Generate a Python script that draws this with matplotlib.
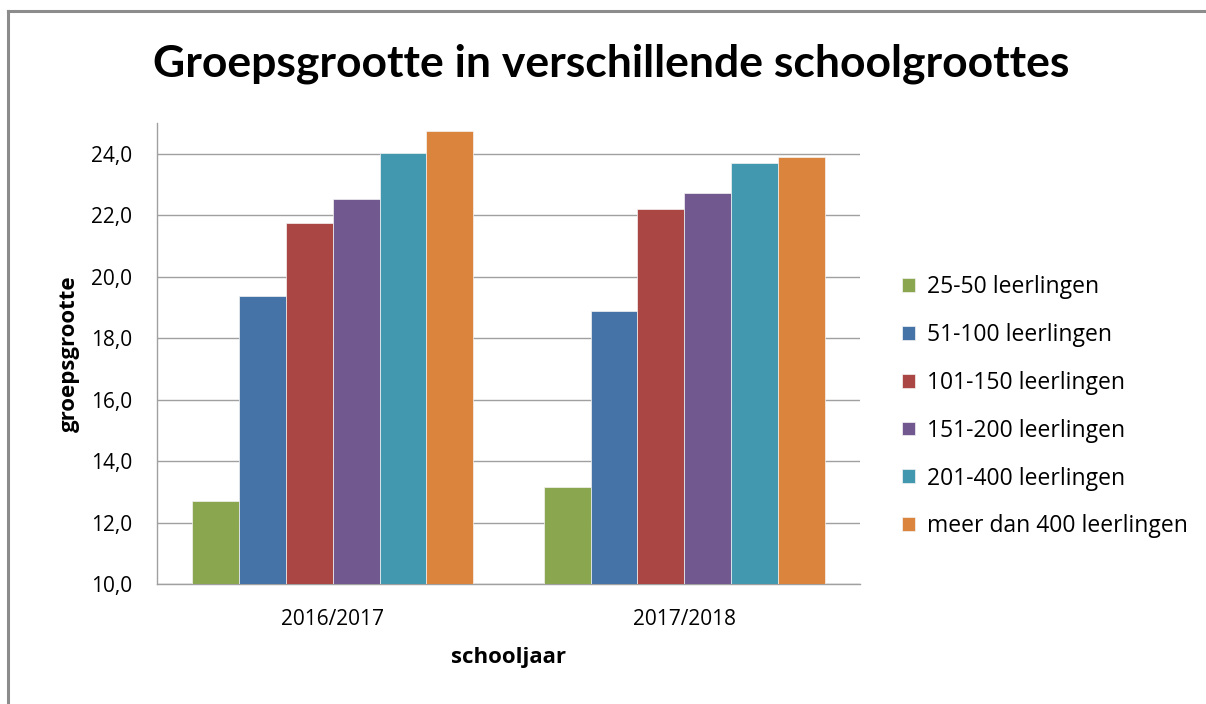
import matplotlib
matplotlib.use('Agg')
import matplotlib.pyplot as plt
from matplotlib.ticker import FuncFormatter
from matplotlib.lines import Line2D
import numpy as np

plt.rcParams['font.family'] = ['Open Sans', 'DejaVu Sans']

years = ['2016/2017', '2017/2018']
groups = ['25-50 leerlingen', '51-100 leerlingen', '101-150 leerlingen',
          '151-200 leerlingen', '201-400 leerlingen', 'meer dan 400 leerlingen']
v_25_50 = [12.69, 13.15]
v_51_100 = [19.38, 18.89]
v_101_150 = [21.76, 22.19]
v_151_200 = [22.52, 22.71]
v_201_400 = [24.03, 23.69]
v_400plus = [24.75, 23.88]
colors = ['#8AA64E', '#4572A7', '#AA4643', '#71588F', '#4198AF', '#DB843D']

series = [v_25_50, v_51_100, v_101_150, v_151_200, v_201_400, v_400plus]

fig = plt.figure(figsize=(12.06, 7.04), dpi=100)
ax = fig.add_axes([157/1206, 1-584/704, (860-157)/1206, (584-123)/704])

x = np.arange(len(years))
w = 0.8 / len(series)
for i, (vals, name) in enumerate(zip(series, groups)):
    ax.bar(x + (i - 2.5) * w, vals, w, color=colors[i], label=name,
           edgecolor='#f4f4f4', linewidth=0.5, zorder=3)

ax.set_xlim(-0.5, 1.5)
ax.set_ylim(10, 25)
ax.set_yticks(np.arange(10, 25, 2))
ax.yaxis.set_major_formatter(FuncFormatter(lambda v, p: f'{v:.1f}'.replace('.', ',')))
ax.set_xticks(x)
ax.set_xticklabels(years)
ax.tick_params(axis='both', length=0, labelsize=15, colors='#000000')
ax.tick_params(axis='y', pad=18)
ax.tick_params(axis='x', pad=18)
ax.grid(axis='y', color='#A0A0A0', linewidth=1.0, zorder=0)
for s in ['top', 'right']:
    ax.spines[s].set_visible(False)
for s in ['left', 'bottom']:
    ax.spines[s].set_color('#A0A0A0')
    ax.spines[s].set_linewidth(1.0)

ax.set_xlabel('schooljaar', fontsize=16, fontweight='bold', labelpad=12)
ax.set_ylabel('groepsgrootte', fontsize=16, fontweight='bold', labelpad=8)

fig.text(0.507, 1-64/704, 'Groepsgrootte in verschillende schoolgroottes',
         ha='center', va='center', fontsize=32, fontweight='bold',
         family=['Lato', 'DejaVu Sans'])

ax.legend(loc='upper left', bbox_to_anchor=(893/1206, 1-266/704),
          bbox_transform=fig.transFigure, frameon=False, fontsize=16.5,
          handlelength=0.55, handleheight=0.55, handletextpad=0.55,
          labelspacing=1.04, borderaxespad=0)

# rand om de grafiek
fig.add_artist(Line2D([8/1206, 1], [1-11/704, 1-11/704], color='#8C8C8C', linewidth=2.2))
fig.add_artist(Line2D([8/1206, 8/1206], [0, 1-11/704], color='#8C8C8C', linewidth=2.2))

fig.savefig('out.png', dpi=100)
